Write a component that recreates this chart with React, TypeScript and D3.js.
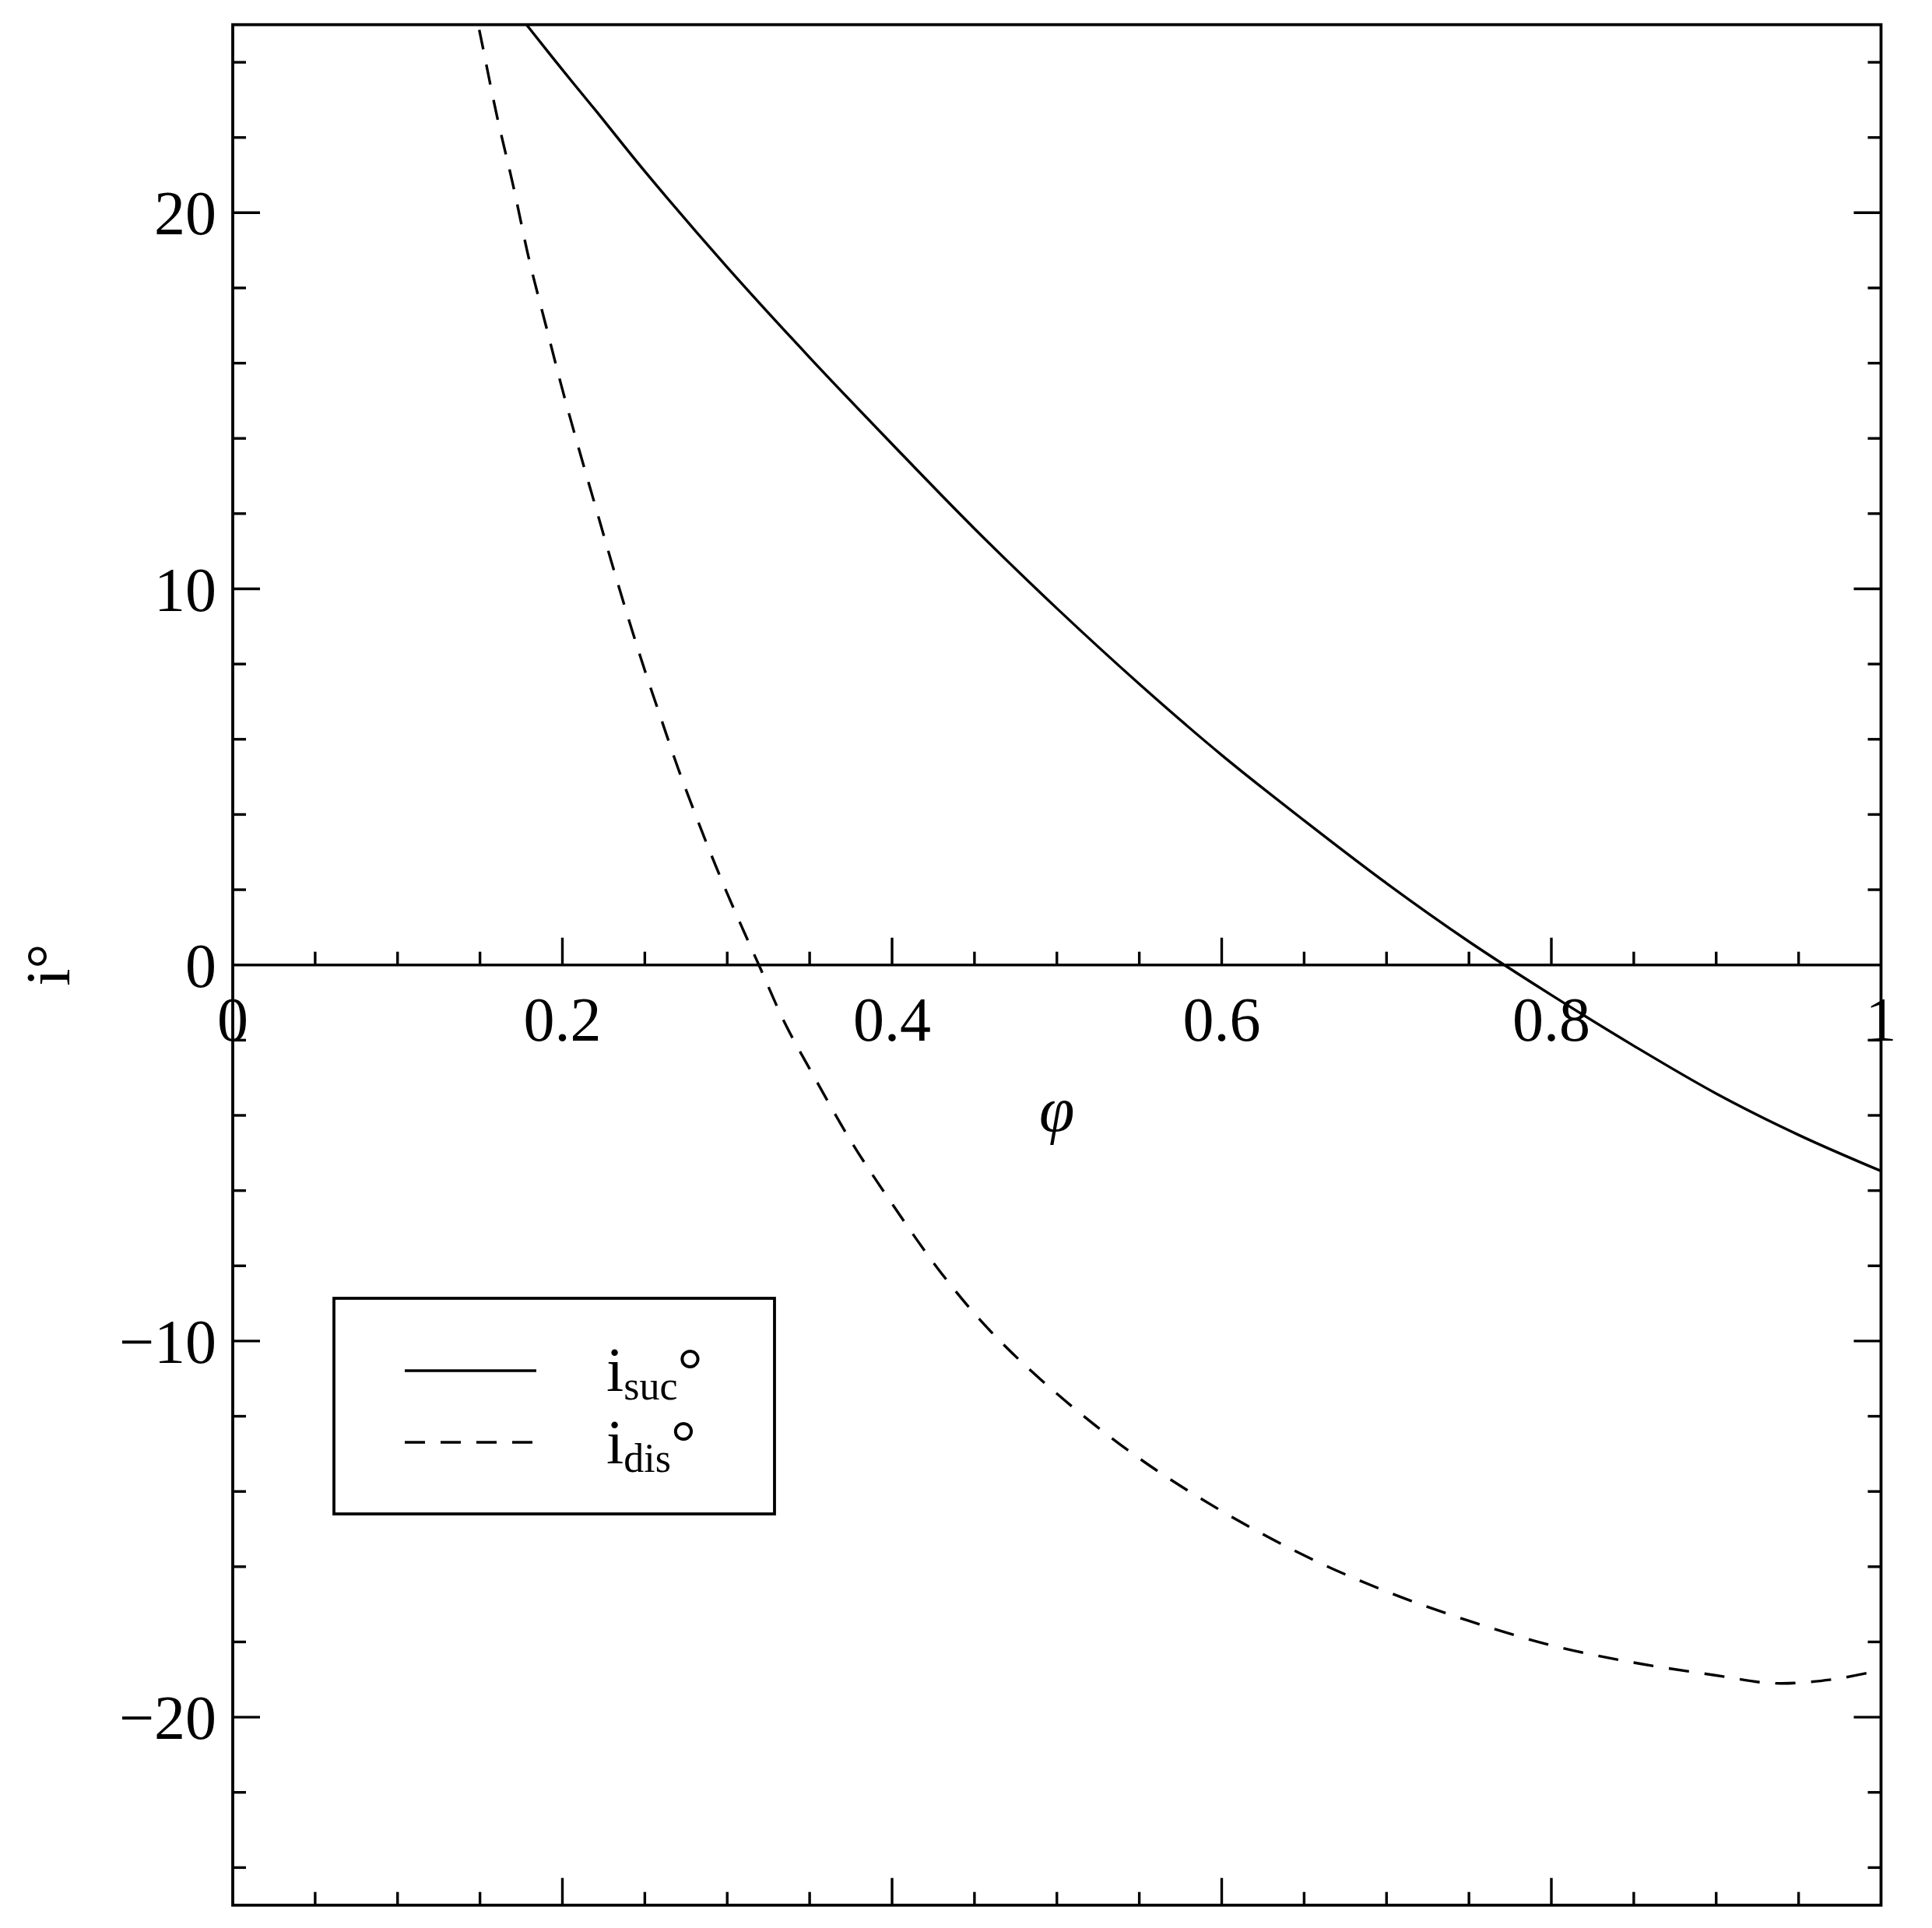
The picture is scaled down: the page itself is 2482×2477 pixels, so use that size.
import React, { useRef, useEffect } from 'react';
import * as d3 from 'd3';

// i_suc (solid)
const PHI_SUC = [0.17, 0.18, 0.2, 0.22, 0.25, 0.3, 0.35, 0.4, 0.45, 0.5, 0.55, 0.6, 0.65, 0.7, 0.75, 0.8, 0.85, 0.9, 0.95, 1.0];
const I_SUC = [25.45, 24.9, 23.8, 22.73, 21.1, 18.55, 16.15, 13.85, 11.6, 9.48, 7.47, 5.58, 3.84, 2.17, 0.62, -0.8, -2.15, -3.42, -4.52, -5.48];

// i_dis (dashed)
const PHI_DIS = [0.145, 0.15, 0.16, 0.17, 0.18, 0.19, 0.2, 0.21, 0.22, 0.23, 0.24, 0.25, 0.26, 0.27, 0.28, 0.29, 0.3, 0.31, 0.32, 0.335, 0.35, 0.375, 0.4, 0.43, 0.46, 0.5, 0.55, 0.6, 0.65, 0.7, 0.75, 0.8, 0.85, 0.9, 0.935, 0.97, 1.0];
const I_DIS = [25.8, 24.77, 22.63, 20.75, 18.72, 17.0, 15.3, 13.72, 12.2, 10.68, 9.22, 7.83, 6.53, 5.25, 4.08, 2.96, 1.9, 0.9, -0.08, -1.55, -2.76, -4.68, -6.35, -8.2, -9.75, -11.4, -13.12, -14.52, -15.7, -16.66, -17.44, -18.09, -18.55, -18.89, -19.1, -19.0, -18.75];

const X_MAJOR = [0.2, 0.4, 0.6, 0.8];
const X_MINOR = [0.05, 0.1, 0.15, 0.25, 0.3, 0.35, 0.45, 0.5, 0.55, 0.65, 0.7, 0.75, 0.85, 0.9, 0.95];
const X_LABELS = [0, 0.2, 0.4, 0.6, 0.8, 1];
const X_LABEL_TEXT = ['0', '0.2', '0.4', '0.6', '0.8', '1'];

const Y_MAJOR = [-20, -10, 10, 20];
const Y_MINOR = [-24, -22, -18, -16, -14, -12, -8, -6, -4, -2, 2, 4, 6, 8, 12, 14, 16, 18, 22, 24];
const Y_LABELS = [-20, -10, 0, 10, 20];
const Y_LABEL_TEXT = ['\u221220', '\u221210', '0', '10', '20'];

const SERIES = [
    { key: 'suc', sub: 'suc', dash: null },
    { key: 'dis', sub: 'dis', dash: '26,20' },
];

export default function App() {
    const ref = useRef<SVGSVGElement>(null);

    useEffect(() => {
        const svg = d3.select(ref.current);
        svg.selectAll('*').remove();

        const width = 2482;
        const height = 2477;
        const left = 299;
        const right = 2416.5;
        const top = 31.7;
        const bottom = 2447.7;
        const font = '"Liberation Serif", "Times New Roman", serif';
        const majorLen = 35;
        const minorLen = 17;

        svg.attr('width', width).attr('height', height);

        const x = d3.scaleLinear().domain([0, 1]).range([left, right]);
        const y = d3.scaleLinear().domain([-25, 25]).range([bottom, top]);

        svg.append('rect').attr('width', width).attr('height', height).attr('fill', '#fff');

        svg.append('defs').append('clipPath').attr('id', 'plot-clip')
            .append('rect')
            .attr('x', left).attr('y', top)
            .attr('width', right - left).attr('height', bottom - top);

        // frame
        svg.append('rect')
            .attr('x', left).attr('y', top)
            .attr('width', right - left).attr('height', bottom - top)
            .attr('fill', 'none').attr('stroke', '#000').attr('stroke-width', 3.8);

        // zero line
        svg.append('line')
            .attr('x1', left).attr('x2', right)
            .attr('y1', y(0)).attr('y2', y(0))
            .attr('stroke', '#000').attr('stroke-width', 3.6);

        const ticks = svg.append('g').attr('stroke', '#000').attr('stroke-width', 3.4);

        // x ticks on zero line and bottom edge, pointing up
        [y(0), bottom].forEach(base => {
            ticks.selectAll(null).data(X_MAJOR).join('line')
                .attr('x1', d => x(d)).attr('x2', d => x(d))
                .attr('y1', base).attr('y2', base - majorLen);
            ticks.selectAll(null).data(X_MINOR).join('line')
                .attr('x1', d => x(d)).attr('x2', d => x(d))
                .attr('y1', base).attr('y2', base - minorLen);
        });

        // y ticks on left and right edges, pointing inward
        [[left, 1], [right, -1]].forEach(([base, dir]) => {
            ticks.selectAll(null).data(Y_MAJOR).join('line')
                .attr('x1', base).attr('x2', base + dir * majorLen)
                .attr('y1', d => y(d)).attr('y2', d => y(d));
            ticks.selectAll(null).data(Y_MINOR).join('line')
                .attr('x1', base).attr('x2', base + dir * minorLen)
                .attr('y1', d => y(d)).attr('y2', d => y(d));
        });

        // tick labels
        svg.append('g')
            .attr('font-family', font).attr('font-size', 80).attr('text-anchor', 'middle')
            .selectAll('text').data(X_LABELS).join('text')
            .attr('x', d => x(d)).attr('y', y(0) + 97)
            .text((d, i) => X_LABEL_TEXT[i]);

        svg.append('g')
            .attr('font-family', font).attr('font-size', 80).attr('text-anchor', 'end')
            .selectAll('text').data(Y_LABELS).join('text')
            .attr('x', left - 21).attr('y', d => y(d) + 28)
            .text((d, i) => Y_LABEL_TEXT[i]);

        // axis titles
        svg.append('text')
            .attr('x', (left + right) / 2).attr('y', 1453)
            .attr('font-family', font).attr('font-size', 82).attr('font-style', 'italic')
            .attr('text-anchor', 'middle')
            .text('\u03C6');

        svg.append('text')
            .attr('transform', `translate(89, ${y(0)}) rotate(-90)`)
            .attr('font-family', font).attr('font-size', 80)
            .attr('text-anchor', 'middle')
            .text('i\u00B0');

        // curves
        const line = d3.line<[number, number]>()
            .x(d => x(d[0]))
            .y(d => y(d[1]))
            .curve(d3.curveCatmullRom);

        const curves = svg.append('g').attr('clip-path', 'url(#plot-clip)');
        curves.append('path')
            .attr('d', line(PHI_SUC.map((p, i) => [p, I_SUC[i]] as [number, number])))
            .attr('fill', 'none').attr('stroke', '#000').attr('stroke-width', 3.4);
        curves.append('path')
            .attr('d', line(PHI_DIS.map((p, i) => [p, I_DIS[i]] as [number, number])))
            .attr('fill', 'none').attr('stroke', '#000').attr('stroke-width', 3.4)
            .attr('stroke-dasharray', '26,20');

        // legend
        const lg = svg.append('g');
        lg.append('rect')
            .attr('x', 429).attr('y', 1668)
            .attr('width', 566).attr('height', 277)
            .attr('fill', '#fff').attr('stroke', '#000').attr('stroke-width', 3.8);

        const rowY = [1761, 1853];
        const textY = [1787, 1880];
        SERIES.forEach((s, i) => {
            lg.append('line')
                .attr('x1', 520).attr('x2', 689)
                .attr('y1', rowY[i]).attr('y2', rowY[i])
                .attr('stroke', '#000').attr('stroke-width', 3.6)
                .attr('stroke-dasharray', s.dash ?? null);
            const t = lg.append('text')
                .attr('x', 779).attr('y', textY[i])
                .attr('font-family', font).attr('font-size', 80);
            t.append('tspan').text('i');
            t.append('tspan').attr('font-size', 52).attr('dy', 11).text(s.sub);
            t.append('tspan').attr('font-size', 80).attr('dy', -11).text('\u00B0');
        });
    }, []);

    return <svg ref={ref} style={{ position: 'absolute', left: 0, top: 0 }} />;
}
